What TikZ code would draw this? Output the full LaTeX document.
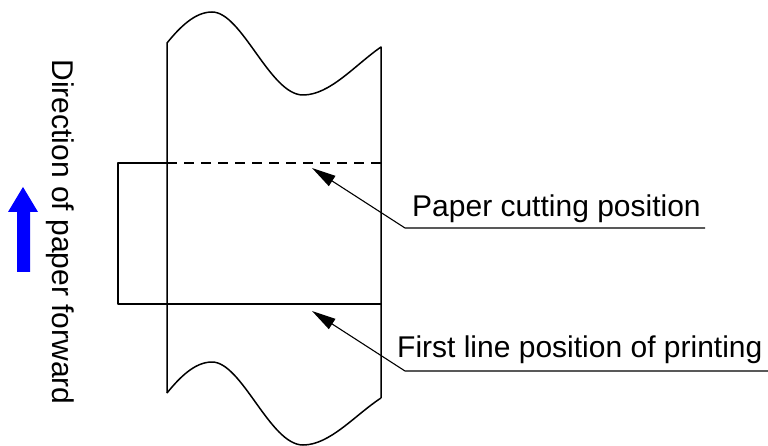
\documentclass[tikz,border=0pt]{standalone}
\usepackage{fontspec}
\setmainfont{Liberation Sans}
\usepackage{tikz}
\usetikzlibrary{arrows.meta}
\definecolor{feedblue}{RGB}{0,0,255}

\tikzset{
  outline/.style={line width=1.5pt,line join=round},
  leader/.style={line width=1.1pt,-{Triangle[length=24pt,width=12pt]}},
  label/.style={font=\fontsize{30}{36}\selectfont,inner sep=0pt}
}

\begin{document}
\begin{tikzpicture}[x=1pt,y=-1pt]
    \useasboundingbox (0,0) rectangle (768,446);
    % paper strip
    \draw[outline] (167,393) -- (167,43)
      .. controls (180,27) and (195,12) .. (212,12)
      .. controls (242,12) and (270,95) .. (303,95)
      .. controls (330,95) and (355,65) .. (381,47) -- (381,398);
    \draw[outline] (167,393)
      .. controls (180,377) and (195,362) .. (212,362)
      .. controls (242,362) and (270,445) .. (303,445)
      .. controls (330,445) and (355,415) .. (381,398);
    % print window
    \draw[outline] (167,163) -- (118,163) -- (118,304) -- (381,304);
    \draw[outline,dash pattern=on 10pt off 7pt] (167,163) -- (381,163);
    % labels
    \coordinate (cut) at (312,168);
    \coordinate (first) at (312,311);
    \coordinate (cutknee) at (405,228);
    \coordinate (cutend) at (705,228);
    \coordinate (firstknee) at (405,371);
    \coordinate (firstend) at (768,371);
    \node[label,anchor=base west] (cutlbl) at (412,217) {Paper cutting position};
    \node[label,anchor=base west] (firstlbl) at (397,357) {First line position of printing};
    \draw[leader] (cutend) -- (cutknee) -- (cut);
    \draw[leader] (firstend) -- (firstknee) -- (first);
    % feed direction
    \node[label,rotate=-90,anchor=base] (dirlbl) at (52,232) {Direction of paper forward};
    \fill[feedblue] (17,272) -- (17,212) -- (8,212) -- (23,187) -- (38,212)
      -- (30,212) -- (30,272) -- cycle;
  \end{tikzpicture}
\end{document}
